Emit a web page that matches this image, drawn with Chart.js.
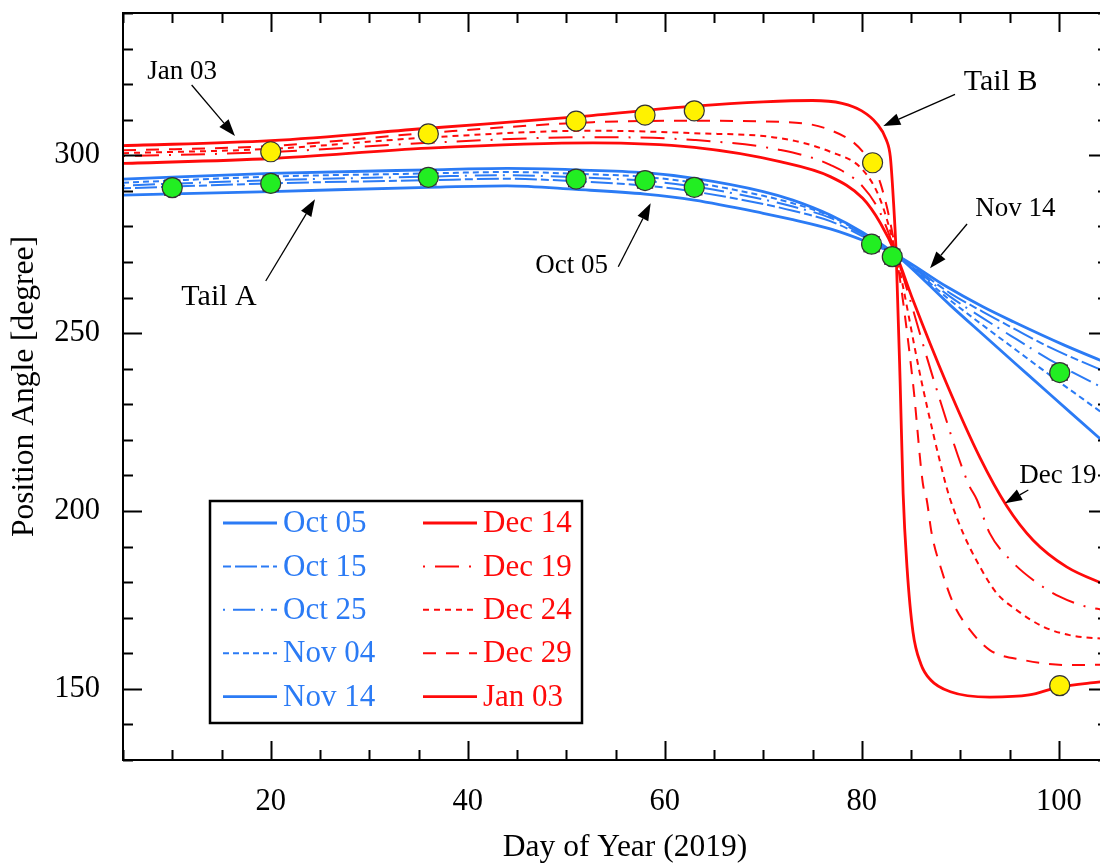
<!DOCTYPE html>
<html>
<head>
<meta charset="utf-8">
<script src="https://cdn.jsdelivr.net/npm/chart.js@4.4.0/dist/chart.umd.min.js"></script>
<style>
  html, body { margin: 0; padding: 0; overflow: hidden; background: #fff; }
  #wrap { width: 1120px; height: 865px; }
</style>
</head>
<body>
<div id="wrap"><canvas id="c" width="1120" height="865"></canvas></div>
<script>
// tick labels
const xTickLabels = [20, 40, 60, 80, 100];
const yTickLabels = [150, 200, 250, 300];
const xTitle = 'Day of Year (2019)';
const yTitle = 'Position Angle [degree]';

// model curves, [day, position angle]
const oct05 = [[5,288.8],[20,289.8],[36,291],[44,291.4],[51,290.4],[58,289.1],[63,287.4],[70,283.7],[73,281.9],[76.8,279.3],[80.1,276.1],[83.5,272],[88.6,263.1],[92.3,257.4],[95.4,253.2],[100.5,246.7],[104.2,242.4],[105,241.5]];
const oct15 = [[5,290.7],[20,292.1],[36,293],[44,293.4],[51,292.7],[58,291.5],[63,289.8],[70,286.3],[73,284.4],[76.8,281.5],[80.1,277.2],[83.5,272],[89,261.2],[92.3,256],[95.7,250.9],[99.1,246],[104.2,239.8],[105,238.9]];
const oct25 = [[5,291.5],[20,293],[36,294],[44,294.4],[51,293.8],[58,292.8],[63,291.2],[70,287.6],[73,285.6],[76.8,282.4],[80.1,277.7],[83.5,272],[89,260.2],[92.3,254.2],[95.7,248.3],[99.1,242.5],[104.2,235],[105,233.9]];
const nov04 = [[5,292.3],[20,294],[36,294.9],[44,295.3],[51,294.8],[58,293.9],[63,292.3],[70,288.6],[73,286.5],[76.8,282.9],[80.1,278],[83.5,272],[89,259.2],[92.3,252.2],[95.7,245.2],[99.1,238.2],[104.2,228],[105,226.4]];
const nov14 = [[5,293.3],[20,294.9],[36,295.9],[44,296.3],[51,295.9],[58,295.1],[63,293.5],[70,289.8],[73,287.4],[76.8,283.2],[80.1,278.3],[83.5,272],[89,257.8],[92.3,249.6],[95.7,241.2],[99.1,232.8],[104.2,220.3],[105,218.3]];

const dec14 = [[5,297.7],[20,299.1],[36,302],[52.7,303.5],[63,302.2],[71.7,298.2],[76.8,294],[80.1,287.9],[81.9,280.9],[83.5,272],[85.2,259.3],[88.6,235.9],[92,215],[94.7,201.5],[97.4,191.8],[100.8,184.3],[105,179]];
const dec19 = [[5,299.8],[20,300.9],[36,303.5],[52.7,305.1],[63,304.3],[71.7,301.5],[76.8,297.3],[80.1,291.2],[81.9,283.7],[83.5,272],[87.4,236],[90.8,207.8],[91.7,203.1],[93,193.7],[95.1,186.2],[97.4,180.6],[100.1,175.9],[102.8,173.1],[105,172]];
const dec24 = [[5,300.6],[20,301.8],[36,305],[52.7,306.9],[63,306.2],[71.7,304.8],[76.8,301],[80.1,295.9],[81.9,287.4],[83.5,272],[86.1,236],[88.5,207.8],[89,203.1],[90.3,193.7],[92,184.3],[93.7,176.9],[95.7,172.2],[98.4,167.5],[101.1,165.1],[105,164]];
const dec29 = [[5,301.4],[20,302.6],[36,306.3],[52.7,309.3],[63,309.7],[71.7,309.4],[76.8,307.1],[80.1,301],[81.9,292.1],[83.5,272],[85.2,236],[86.2,207.8],[86.6,203.1],[87.1,193.7],[88.1,183.4],[89.3,174],[91,166.5],[93,160.9],[96.4,158.1],[101.1,156.7],[105,156.8]];
const jan03 = [[5,302.7],[20,304.1],[36,307.6],[51,310.8],[63,313.8],[70,315],[75,315.4],[78,314.6],[80,312.5],[81.5,309],[82.5,304.3],[82.9,299.6],[83.2,288],[83.5,272],[83.9,236],[84.2,205],[84.6,184],[85.2,166],[86,157],[87,152.5],[89,149.2],[93,147.7],[97,148.3],[100,150.5],[104,151.9],[105,152.2]];

// observed positions
const tailA = [[10,290.9],[20,292.1],[36,293.8],[51,293.3],[58,292.9],[63,291.0],[81,275.0],[83.1,271.5],[100.1,238.9]];
const tailB = [[20,301.0],[36,306.0],[51,309.6],[58,311.3],[63,312.5],[81.1,297.9],[100.1,150.9]];

const BLUE = '#2b7bf5';
const RED = '#ff0a0a';
const FONT = "'Liberation Serif', 'DejaVu Serif', serif";

const pts = arr => arr.map(p => ({ x: p[0], y: p[1] }));

function curve(label, arr, color, dash, col) {
    return {
        label: label,
        data: pts(arr),
        borderColor: color,
        borderWidth: dash.length ? 2 : 2.8,
        borderDash: dash,
        pointRadius: 0,
        fill: false,
        cubicInterpolationMode: 'monotone',
        order: 5,
        legendCol: col
    };
}

const datasets = [
    curve('Oct 05', oct05, BLUE, [], 0),
    curve('Oct 15', oct15, BLUE, [8, 4, 22, 4], 0),
    curve('Oct 25', oct25, BLUE, [2, 8, 22, 6], 0),
    curve('Nov 04', nov04, BLUE, [6, 4], 0),
    curve('Nov 14', nov14, BLUE, [], 0),
    curve('Dec 14', dec14, RED, [], 1),
    curve('Dec 19', dec19, RED, [2, 10, 24, 10], 1),
    curve('Dec 24', dec24, RED, [6, 5], 1),
    curve('Dec 29', dec29, RED, [13, 10], 1),
    curve('Jan 03', jan03, RED, [], 1),
    {
        data: pts(tailA), showLine: false, pointStyle: 'rect', pointRadius: 11.5,
        backgroundColor: '#2a2a2a', borderWidth: 0, order: 3
    },
    {
        data: pts(tailA), showLine: false, pointStyle: 'circle', pointRadius: 10,
        backgroundColor: '#22ee22', borderColor: '#333', borderWidth: 1.2, order: 1
    },
    {
        data: pts(tailB), showLine: false, pointStyle: 'circle', pointRadius: 10,
        backgroundColor: '#fff200', borderColor: '#333', borderWidth: 1.2, order: 1
    }
];

// text notes with arrows, in data units
const notes = [
    { text: 'Jan 03', at: [11.0, 321.4], size: 27, from: [11.97, 319.76], to: [16.37, 305.42] },
    { text: 'Tail B', at: [94.1, 318.4], size: 30, from: [89.47, 317.14], to: [82.19, 308.23] },
    { text: 'Nov 14', at: [95.6, 282.9], size: 27, from: [90.69, 280.68], to: [86.93, 268.22] },
    { text: 'Tail A', at: [14.75, 257.9], size: 30, from: [19.49, 264.66], to: [24.49, 287.62] },
    { text: 'Oct 05', at: [50.55, 266.8], size: 27, from: [55.28, 268.67], to: [58.57, 286.5] },
    { text: 'Dec 19', at: [96.0, 207.8], size: 27, from: [96.91, 205.9], to: [94.54, 202.2], align: 'left' }
];

function arrow(ctx, x1, y1, x2, y2) {
    const ang = Math.atan2(y2 - y1, x2 - x1);
    const hl = 17, hw = 6;
    const bx = x2 - hl * Math.cos(ang), by = y2 - hl * Math.sin(ang);
    ctx.beginPath();
    ctx.moveTo(x1, y1);
    ctx.lineTo(bx, by);
    ctx.stroke();
    ctx.beginPath();
    ctx.moveTo(x2, y2);
    ctx.lineTo(bx + hw * Math.sin(ang), by - hw * Math.cos(ang));
    ctx.lineTo(bx - hw * Math.sin(ang), by + hw * Math.cos(ang));
    ctx.closePath();
    ctx.fill();
}

const framePlugin = {
    id: 'frame',
    afterDatasetsDraw(chart) {
        const { ctx, chartArea: a, scales: { x, y } } = chart;
        ctx.save();
        ctx.strokeStyle = '#000';
        ctx.lineWidth = 2;
        ctx.strokeRect(a.left, a.top, a.right - a.left, a.bottom - a.top);
        ctx.beginPath();
        for (let v = 5; v <= 105; v += 5) {
            const px = Math.round(x.getPixelForValue(v)) + 0.5;
            const len = xTickLabels.includes(v) ? 19 : 10;
            ctx.moveTo(px, a.bottom); ctx.lineTo(px, a.bottom - len);
            ctx.moveTo(px, a.top); ctx.lineTo(px, a.top + len);
        }
        for (let v = 130; v <= 340; v += 10) {
            const py = Math.round(y.getPixelForValue(v)) + 0.5;
            const len = yTickLabels.includes(v) ? 19 : 10;
            ctx.moveTo(a.left, py); ctx.lineTo(a.left + len, py);
            ctx.moveTo(a.right, py); ctx.lineTo(a.right - len, py);
        }
        ctx.stroke();
        ctx.restore();
    },
    afterDraw(chart) {
        const { ctx, chartArea: a, scales: { x, y } } = chart;
        ctx.save();

        // x axis title
        ctx.fillStyle = '#000';
        ctx.font = '31.5px ' + FONT;
        ctx.textAlign = 'center';
        ctx.textBaseline = 'alphabetic';
        ctx.fillText(xTitle, a.left + 502, 856);

        // annotations
        ctx.strokeStyle = '#000';
        ctx.lineWidth = 1.3;
        notes.forEach(n => {
            ctx.font = n.size + 'px ' + FONT;
            ctx.textAlign = n.align || 'center';
            ctx.fillText(n.text, x.getPixelForValue(n.at[0]), y.getPixelForValue(n.at[1]));
            arrow(ctx, x.getPixelForValue(n.from[0]), y.getPixelForValue(n.from[1]),
                x.getPixelForValue(n.to[0]), y.getPixelForValue(n.to[1]));
        });

        // legend box
        const bx = a.left + 87, by = a.top + 488, bw = 372, bh = 222;
        ctx.fillStyle = '#fff';
        ctx.fillRect(bx, by, bw, bh);
        ctx.lineWidth = 2.5;
        ctx.strokeStyle = '#000';
        ctx.strokeRect(bx, by, bw, bh);
        ctx.font = '31px ' + FONT;
        ctx.textAlign = 'left';
        ctx.textBaseline = 'middle';
        const rows = [0, 0];
        chart.data.datasets.forEach(ds => {
            if (ds.legendCol === undefined) return;
            const c = ds.legendCol;
            const ry = by + 22 + rows[c] * 43.4;
            rows[c]++;
            const sx = bx + 13 + c * 200;
            ctx.strokeStyle = ds.borderColor;
            ctx.lineWidth = ds.borderWidth;
            ctx.setLineDash(ds.borderDash);
            ctx.beginPath();
            ctx.moveTo(sx, ry);
            ctx.lineTo(sx + 54, ry);
            ctx.stroke();
            ctx.setLineDash([]);
            ctx.fillStyle = ds.borderColor;
            ctx.fillText(ds.label, sx + 60, ry + 1);
        });
        ctx.restore();
    }
};

new Chart(document.getElementById('c'), {
    type: 'line',
    data: { datasets: datasets },
    options: {
        responsive: false,
        animation: false,
        layout: { padding: { top: 13, right: 12, left: 0, bottom: 0 } },
        plugins: { legend: { display: false }, tooltip: { enabled: false } },
        scales: {
            x: {
                type: 'linear', min: 5, max: 105,
                afterFit: s => { s.height = 105; s.paddingLeft = 0; s.paddingRight = 0; },
                afterBuildTicks: s => { s.ticks = xTickLabels.map(v => ({ value: v })); },
                grid: { display: false }, border: { display: false },
                ticks: { padding: 16, color: '#000', font: { family: FONT, size: 30.5 }, maxRotation: 0 },
                title: { display: false }
            },
            y: {
                type: 'linear', min: 130, max: 340,
                afterFit: s => { s.width = 123; s.paddingTop = 0; s.paddingBottom = 0; },
                afterBuildTicks: s => { s.ticks = yTickLabels.map(v => ({ value: v })); },
                grid: { display: false }, border: { display: false },
                ticks: { padding: 15, color: '#000', font: { family: FONT, size: 30.5 } },
                title: { display: true, text: yTitle, color: '#000',
                    font: { family: FONT, size: 31.5, lineHeight: 1.2 }, padding: { top: 6, bottom: 0 } }
            }
        }
    },
    plugins: [framePlugin]
});
</script>
</body>
</html>
